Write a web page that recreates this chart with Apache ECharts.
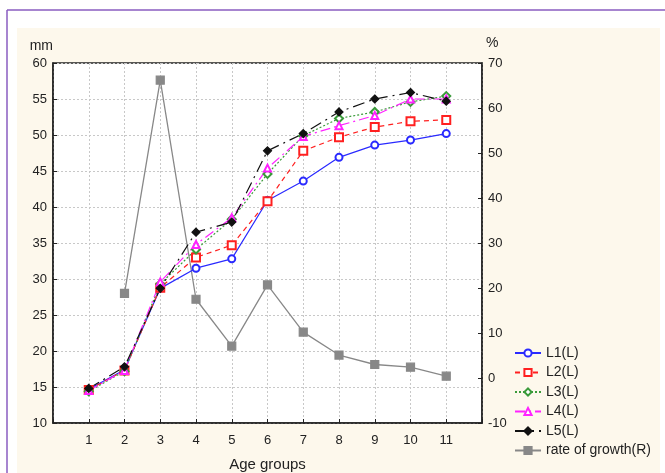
<!DOCTYPE html>
<html><head><meta charset="utf-8">
<script src="https://cdn.jsdelivr.net/npm/echarts@6/dist/echarts.min.js"></script>
<style>html,body{margin:0;padding:0;background:#fff}#c{width:665px;height:473px}</style>
</head><body><div id="c"></div>
<script>
const ages = [1,2,3,4,5,6,7,8,9,10,11];
const L1 = [14.7,17.4,28.7,31.5,32.8,40.9,43.6,46.9,48.6,49.3,50.2];
const L2 = [14.6,17.3,28.8,33.0,34.7,40.8,47.8,49.7,51.1,51.9,52.1];
const L3 = [14.4,17.2,29.3,34.1,38.3,44.6,49.9,52.3,53.2,54.6,55.4];
const L4 = [14.5,17.3,29.6,34.8,38.5,45.4,49.8,51.3,52.7,55.0,55.0];
const L5 = [14.8,17.8,28.7,36.5,37.9,47.8,50.2,53.2,55.0,55.9,54.7];
const rate = [null,18.8,66.2,17.5,7.1,20.7,10.2,5.1,3.0,2.4,0.4];
const leftTicks = {min:10,max:60,interval:5};
const rightTicks = {min:-10,max:70,interval:10};

const zip = arr => ages.map((a,i)=>[a, arr[i]]);
const font = '"Liberation Sans",Arial,sans-serif';
const mk = (name, data, color, symbol, size, dash, yIdx, width) => ({
  name, type:'line', data: zip(data), yAxisIndex: yIdx,
  symbol, symbolSize: size, connectNulls:false,
  lineStyle:{color, width: width||1.2, type: dash},
  itemStyle:{color, borderColor: color, borderWidth:1.2},
  emphasis:{disabled:true}, animation:false
});
const chart = echarts.init(document.getElementById('c'));
chart.setOption({
  animation:false,
  backgroundColor:'#fff',
  graphic:[
    {type:'rect', shape:{x:17,y:28,width:643,height:445}, style:{fill:'#fdf8ec'}, z:-10},
    {type:'rect', shape:{x:53,y:63,width:429,height:360}, style:{fill:'#fff'}, z:-9},
    {type:'line', shape:{x1:7,y1:10,x2:665,y2:10}, style:{stroke:'#8a5cc0',lineWidth:1.5}, z:-8},
    {type:'line', shape:{x1:7,y1:10,x2:7,y2:473}, style:{stroke:'#8a5cc0',lineWidth:1.5}, z:-8}
  ],
  grid:{left:53, top:63, right:183, bottom:50, outerBoundsMode:'none', containLabel:false,
    show:true, borderColor:'#222', borderWidth:1.5, backgroundColor:'transparent'},
  xAxis:{type:'value', min:0, max:12, interval:1,
    name:'Age groups', nameLocation:'middle', nameGap:34,
    nameTextStyle:{color:'#222', fontSize:15, fontFamily:font},
    axisLine:{show:true, onZero:false, lineStyle:{color:'#222', width:1.5}},
    axisTick:{show:true, inside:true, length:4, lineStyle:{color:'#222'}},
    axisLabel:{color:'#222', fontSize:13, fontFamily:font, margin:11,
      formatter: v => (v>=1 && v<=11) ? String(v) : ''},
    splitLine:{show:true, lineStyle:{color:'#c8c8c8', type:[2,2]}}
  },
  yAxis:[
    {type:'value', min:leftTicks.min, max:leftTicks.max, interval:leftTicks.interval, position:'left',
      name:'mm', nameLocation:'end', nameGap:10,
      nameTextStyle:{color:'#222', fontSize:14, fontFamily:font, align:'right'},
      axisLine:{show:true, onZero:false, lineStyle:{color:'#222', width:1.5}},
      axisTick:{show:true, inside:true, length:4, lineStyle:{color:'#222'}},
      axisLabel:{color:'#222', fontSize:13, fontFamily:font, margin:6},
      splitLine:{show:true, lineStyle:{color:'#c8c8c8', type:[2,2]}}
    },
    {type:'value', min:rightTicks.min, max:rightTicks.max, interval:rightTicks.interval, position:'right',
      name:'%', nameLocation:'end', nameGap:13,
      nameTextStyle:{color:'#222', fontSize:14, fontFamily:font, align:'left', padding:[0,0,0,4]},
      axisLine:{show:true, onZero:false, lineStyle:{color:'#222', width:1.5}},
      axisTick:{show:true, inside:true, length:4, lineStyle:{color:'#222'}},
      axisLabel:{color:'#222', fontSize:13, fontFamily:font, margin:6},
      splitLine:{show:false}
    }
  ],
  legend:{orient:'vertical', left:514, top:346, height:130, padding:0, itemGap:5.5, itemWidth:26, itemHeight:9,
    textStyle:{color:'#222', fontSize:14, fontFamily:font},
    data:['L1(L)','L2(L)','L3(L)','L4(L)','L5(L)','rate of growth(R)']},
  series:[
    mk('rate of growth(R)', rate, '#888888', 'rect', 8, 'solid', 1, 1.3),
    mk('L1(L)', L1, '#2a2aff', 'emptyCircle', 7, 'solid', 0),
    mk('L2(L)', L2, '#ff2020', 'emptyRect', 8, [5,4], 0),
    mk('L3(L)', L3, '#3a9a3a', 'emptyDiamond', 8, [2,2], 0),
    mk('L4(L)', L4, '#ff22ff', 'emptyTriangle', 7, [10,4,2,4], 0),
    mk('L5(L)', L5, '#111111', 'diamond', 8, [12,5,2,5], 0)
  ]
});
</script></body></html>
